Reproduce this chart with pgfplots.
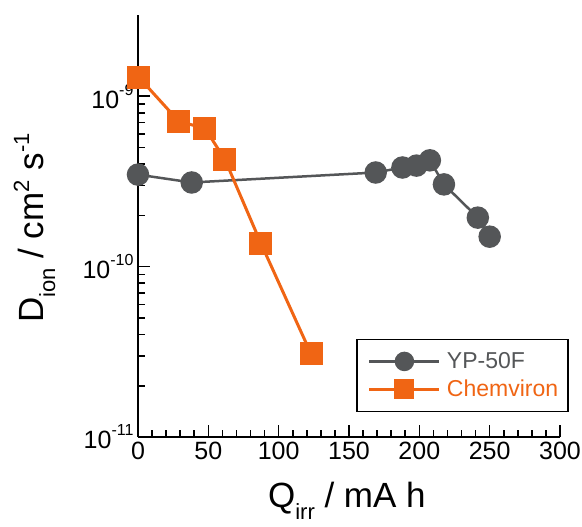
\documentclass[border=0pt]{standalone}
\usepackage{fontspec}
\setmainfont{Liberation Sans}
\usepackage{pgfplots}
\pgfplotsset{compat=1.18}
\definecolor{cgray}{RGB}{84,86,88}
\definecolor{corange}{RGB}{240,101,20}
\newcommand{\lsub}[1]{\raisebox{-12pt}{\fontsize{22}{22}\selectfont #1}}
\newcommand{\lsup}[1]{\raisebox{14pt}{\fontsize{22}{22}\selectfont #1}}
\newcommand{\tsup}[1]{\raisebox{13pt}{\fontsize{16}{16}\selectfont #1}}
\begin{document}
\begin{tikzpicture}
\path[use as bounding box] (-138pt,-90pt) rectangle (444pt,437pt);
\begin{axis}[
  scale only axis,
  width=422pt, height=422pt,
  ymode=log,
  xmin=0, xmax=300, ymin=1e-11, ymax=3e-9,
  clip=false,
  axis x line*=bottom, axis y line*=left,
  axis line style={line width=2.2pt, -},
  tick align=inside,
  xtick={0,50,...,300},
  minor x tick num=4,
  ytick={1e-11,1e-10,1e-9},
  yticklabels={10\tsup{-11},10\tsup{-10},10\tsup{-9}},
  major tick length=12pt, minor tick length=7pt,
  every tick/.style={line width=1.6pt, black},
  /pgf/number format/assume math mode=true,
  xticklabel style={font=\fontsize{25}{27}\selectfont, yshift=-1pt},
  yticklabel style={font=\fontsize{25}{27}\selectfont, xshift=-1pt},
  xlabel={Q\lsub{irr} / mA h},
  ylabel={D\lsub{ion} / cm\lsup{2} s\lsup{-1}},
  label style={font=\fontsize{35}{38}\selectfont},
  xlabel style={at={(axis description cs:0.495,-0.166)}, anchor=base},
  ylabel style={at={(axis description cs:-0.225,0.495)}, anchor=base},
  legend style={at={(axis description cs:0.517,0.059)}, anchor=south west,
    draw=black, line width=1.5pt, inner xsep=11pt, inner ysep=11pt,
    font=\fontsize{23}{25}\selectfont, row sep=6pt, column sep=4pt,
    text width=108pt},
  legend image code/.code={
    \draw[#1] (0cm,0cm) -- (70pt,0cm);
    \draw[#1, only marks, mark size=8.5pt] plot coordinates {(35pt,0cm)};
  },
]
\addplot[cgray, line width=2.5pt, mark=*, mark size=10pt, mark options={solid, fill=cgray, draw=cgray}] coordinates {
(0,3.47e-10) (38.2,3.12e-10) (169,3.57e-10) (188,3.82e-10) (198,3.92e-10) (207.5,4.21e-10) (217.5,3.04e-10) (241.6,1.94e-10) (250,1.50e-10)
};
\addlegendentry{\textcolor{cgray}{YP-50F}}
\addplot[corange, line width=3pt, mark=square*, mark size=10pt, mark options={solid, fill=corange, draw=corange}] coordinates {
(0.7,1.29e-9) (29,7.13e-10) (47.6,6.48e-10) (61.8,4.26e-10) (87.4,1.37e-10) (123,3.08e-11)
};
\addlegendentry{\textcolor{corange}{Chemviron}}
\end{axis}
\end{tikzpicture}
\end{document}
